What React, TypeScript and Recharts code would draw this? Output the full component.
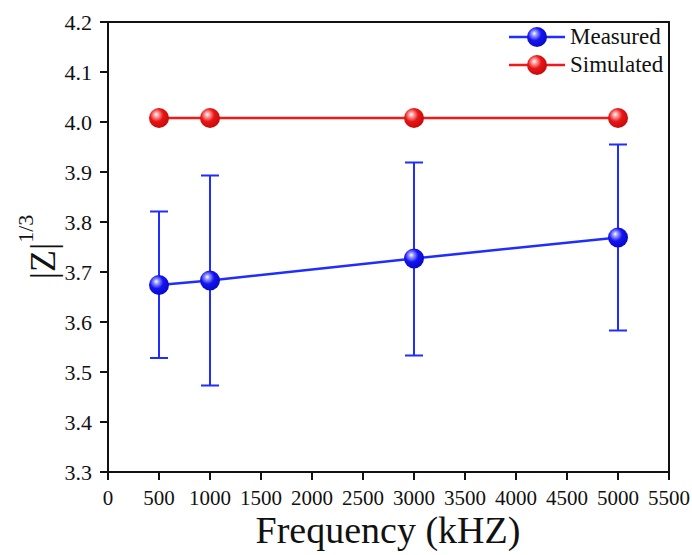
import {
  LineChart,
  Line,
  XAxis,
  YAxis,
  ErrorBar,
  ReferenceArea,
} from "recharts";

const frequencies = [500, 1000, 3000, 5000];
const measured = [3.674, 3.683, 3.727, 3.769];
const measuredLow = [3.528, 3.473, 3.533, 3.583];
const measuredHigh = [3.821, 3.893, 3.919, 3.955];
const simulated = [4.008, 4.008, 4.008, 4.008];
const xTicks = [0, 500, 1000, 1500, 2000, 2500, 3000, 3500, 4000, 4500, 5000, 5500];
const yTicks = [3.3, 3.4, 3.5, 3.6, 3.7, 3.8, 3.9, 4.0, 4.1, 4.2];

const data = frequencies.map((f, i) => ({
  f,
  measured: measured[i],
  simulated: simulated[i],
  err: [measured[i] - measuredLow[i], measuredHigh[i] - measured[i]],
}));

const BLUE = "#1f2dff";
const RED = "#ee1b1b";
const FONT = "Liberation Serif";

const Ball = ({ cx, cy, grad }: any) => {
  if (cx == null || cy == null) return null;
  return <circle cx={cx} cy={cy} r={10} fill={`url(#${grad})`} />;
};

const Gradients = ({ prefix }: { prefix: string }) => (
  <>
    <radialGradient id={`${prefix}Blue`} cx="0.4" cy="0.38" r="0.6" fx="0.36" fy="0.32">
      <stop offset="0" stopColor="#ffffff" />
      <stop offset="0.2" stopColor="#9a9cff" />
      <stop offset="0.55" stopColor="#1414f2" />
      <stop offset="1" stopColor="#0a0ac8" />
    </radialGradient>
    <radialGradient id={`${prefix}Red`} cx="0.4" cy="0.38" r="0.6" fx="0.36" fy="0.32">
      <stop offset="0" stopColor="#ffffff" />
      <stop offset="0.2" stopColor="#ffa0a0" />
      <stop offset="0.55" stopColor="#e81616" />
      <stop offset="1" stopColor="#c80c0c" />
    </radialGradient>
  </>
);

const LegendBox = () => {
  const rows = [
    { name: "Measured", color: BLUE, grad: "lgBlue" },
    { name: "Simulated", color: RED, grad: "lgRed" },
  ];
  return (
    <svg width={180} height={62} style={{ position: "absolute", left: 509, top: 24 }}>
      <defs>
        <Gradients prefix="lg" />
      </defs>
      {rows.map((r, i) => {
        const y = 13 + i * 28;
        return (
          <g key={r.name}>
            <line x1={0} x2={56} y1={y} y2={y} stroke={r.color} strokeWidth={2.5} />
            <circle cx={28} cy={y} r={10} fill={`url(#${r.grad})`} />
            <text x={61} y={y + 7} fontSize={23} fontFamily={FONT} fill="#111">
              {r.name}
            </text>
          </g>
        );
      })}
    </svg>
  );
};

const renderXTick = ({ x, y, payload }: any) => (
  <text
    key={`x${payload.value}`}
    x={x}
    y={y}
    dy={25}
    textAnchor="middle"
    style={{ fontSize: 21, fontFamily: FONT, fill: "#111" }}
  >
    {payload.value}
  </text>
);

const renderYTick = ({ x, y, payload }: any) => (
  <text
    key={`y${payload.value}`}
    x={x}
    y={y}
    dy={8}
    textAnchor="end"
    style={{ fontSize: 22, fontFamily: FONT, fill: "#111" }}
  >
    {Number(payload.value).toFixed(1)}
  </text>
);

const YLabel = () => (
  <text
    transform="translate(55, 247) rotate(-90)"
    textAnchor="middle"
    fontFamily={FONT}
    fill="#111"
  >
    <tspan fontSize={36}>|Z|</tspan>
    <tspan fontSize={22} dy={-22}>1/3</tspan>
  </text>
);

const XLabel = () => (
  <text x={388} y={543} textAnchor="middle" fontSize={38} fontFamily={FONT} fill="#111">
    Frequency (kHZ)
  </text>
);

export default function App() {
  return (
    <div
      style={{
        position: "absolute",
        left: 0,
        top: 0,
        width: 692,
        height: 555,
        background: "#fff",
        fontFamily: FONT,
      }}
    >
      <LineChart
        width={692}
        height={555}
        data={data}
        margin={{ top: 22, right: 23, left: 0, bottom: 0 }}
      >
        <defs>
          <Gradients prefix="g" />
        </defs>
        <XAxis
          dataKey="f"
          type="number"
          domain={[0, 5500]}
          ticks={xTicks}
          interval={0}
          height={83}
          tickSize={8}
          tickMargin={0}
          stroke="#111"
          strokeWidth={2}
          tickLine={{ stroke: "#111", strokeWidth: 2 }}
          tick={renderXTick}
          label={{ content: () => <XLabel /> }}
        />
        <YAxis
          type="number"
          domain={[3.3, 4.2]}
          ticks={yTicks}
          interval={0}
          width={108}
          tickSize={8}
          tickMargin={8}
          stroke="#111"
          strokeWidth={2}
          tickLine={{ stroke: "#111", strokeWidth: 2 }}
          tick={renderYTick}
          label={{ content: () => <YLabel /> }}
        />
        <ReferenceArea
          x1={0}
          x2={5500}
          y1={3.3}
          y2={4.2}
          fill="none"
          stroke="#111"
          strokeWidth={2}
          ifOverflow="visible"
        />
        <Line
          dataKey="simulated"
          name="Simulated"
          stroke={RED}
          strokeWidth={2.5}
          dot={(p: any) => <Ball key={`s${p.index}`} {...p} grad="gRed" />}
          activeDot={false}
          isAnimationActive={false}
        />
        <Line
          dataKey="measured"
          name="Measured"
          stroke={BLUE}
          strokeWidth={2.5}
          dot={(p: any) => <Ball key={`m${p.index}`} {...p} grad="gBlue" />}
          activeDot={false}
          isAnimationActive={false}
        >
          <ErrorBar dataKey="err" direction="y" width={9} stroke={BLUE} strokeWidth={2} />
        </Line>
      </LineChart>
      <LegendBox />
    </div>
  );
}
